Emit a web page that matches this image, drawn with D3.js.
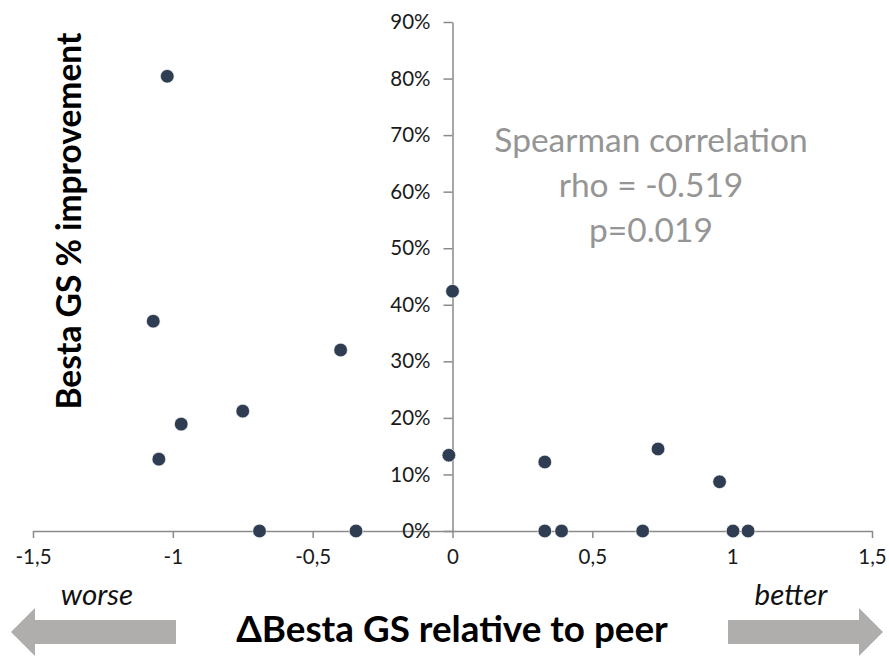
<!DOCTYPE html>
<html>
<head>
<meta charset="utf-8">
<script src="https://cdn.jsdelivr.net/npm/d3@7"></script>
<style>
body { margin: 0; background: #fff; }
svg { display: block; font-family: Lato, "Open Sans", sans-serif; }
</style>
</head>
<body>
<svg id="chart" width="889" height="657"></svg>
<script>
// delta Besta GS relative to peer vs % improvement
var deltaGS = [-1.02, -1.07, -1.05, -0.97, -0.75, -0.69, -0.40, -0.345, 0.0, -0.013,
	0.33, 0.33, 0.39, 0.68, 0.735, 0.955, 1.003, 1.057]
var improvement = [0.804, 0.371, 0.127, 0.189, 0.212, 0, 0.320, 0, 0.424, 0.134,
	0.122, 0, 0, 0, 0.145, 0.087, 0, 0]
var xTicks = [-1.5, -1, -0.5, 0, 0.5, 1, 1.5]
var yTicks = [0, 0.1, 0.2, 0.3, 0.4, 0.5, 0.6, 0.7, 0.8, 0.9]
var statsLines = ["Spearman correlation", "rho = -0.519", "p=0.019"]

var svg = d3.select("#chart")
var x = d3.scaleLinear().domain([-1.5, 1.5]).range([33, 872])
var y = d3.scaleLinear().domain([0, 0.9]).range([531, 22])

var axisColor = "#8a8a8a"

var xAxis = d3.axisBottom(x).tickValues(xTicks).tickSize(7).tickSizeOuter(0)
	.tickPadding(11)
	.tickFormat(function(d) { return String(d).replace(".", ",") })
var gx = svg.append("g").attr("transform", "translate(0," + y(0) + ")").call(xAxis)

var yAxis = d3.axisLeft(y).tickValues(yTicks).tickSize(9).tickSizeOuter(0)
	.tickPadding(13)
	.tickFormat(d3.format(".0%"))
var gy = svg.append("g").attr("transform", "translate(" + x(0) + ",0)").call(yAxis)

svg.selectAll(".domain, .tick line").attr("stroke", axisColor).attr("stroke-width", 1.5)
svg.selectAll(".tick text").attr("fill", "#1a1a1a").attr("font-size", 20.5)
	.attr("font-family", "Lato, sans-serif")

var pts = d3.range(deltaGS.length).map(function(i) {
	return {dx: deltaGS[i], imp: improvement[i]}
})
svg.append("g").selectAll("circle").data(pts).enter().append("circle")
	.attr("cx", function(d) { return x(d.dx) })
	.attr("cy", function(d) { return y(d.imp) })
	.attr("r", 6.8)
	.attr("fill", "#2f3d52")
	.attr("stroke", "#ffffff").attr("stroke-width", 0.6)

svg.append("g").selectAll("text").data(statsLines).enter().append("text")
	.attr("x", 651)
	.attr("y", function(d, i) { return 152 + i * 45 })
	.attr("text-anchor", "middle")
	.attr("font-size", 33.5)
	.attr("fill", "#959595")
	.text(function(d) { return d })

svg.append("text")
	.attr("transform", "translate(81,221) rotate(-90)")
	.attr("text-anchor", "middle")
	.attr("font-size", 33.5).attr("font-weight", "bold").attr("fill", "#000")
	.text("Besta GS % improvement")

svg.append("text")
	.attr("x", 452).attr("y", 642)
	.attr("text-anchor", "middle")
	.attr("font-size", 36.8).attr("font-weight", "bold").attr("fill", "#000")
	.text("\u0394Besta GS relative to peer")

// direction arrows
var arrowColor = "#b0adad"
function arrowPath(x0, headX, tipX) {
	return [[x0, 620], [headX, 620], [headX, 608], [tipX, 632], [headX, 656],
		[headX, 644], [x0, 644]]
}
svg.append("polygon").attr("points", arrowPath(176, 35, 11).join(" "))
	.attr("fill", arrowColor)
svg.append("polygon").attr("points", arrowPath(728, 859, 883).join(" "))
	.attr("fill", arrowColor)

svg.append("text").attr("x", 97).attr("y", 605).attr("text-anchor", "middle")
	.attr("font-size", 29.5).attr("font-style", "italic").attr("fill", "#111")
	.text("worse")
svg.append("text").attr("x", 791).attr("y", 605).attr("text-anchor", "middle")
	.attr("font-size", 29.5).attr("font-style", "italic").attr("fill", "#111")
	.text("better")
</script>
</body>
</html>
